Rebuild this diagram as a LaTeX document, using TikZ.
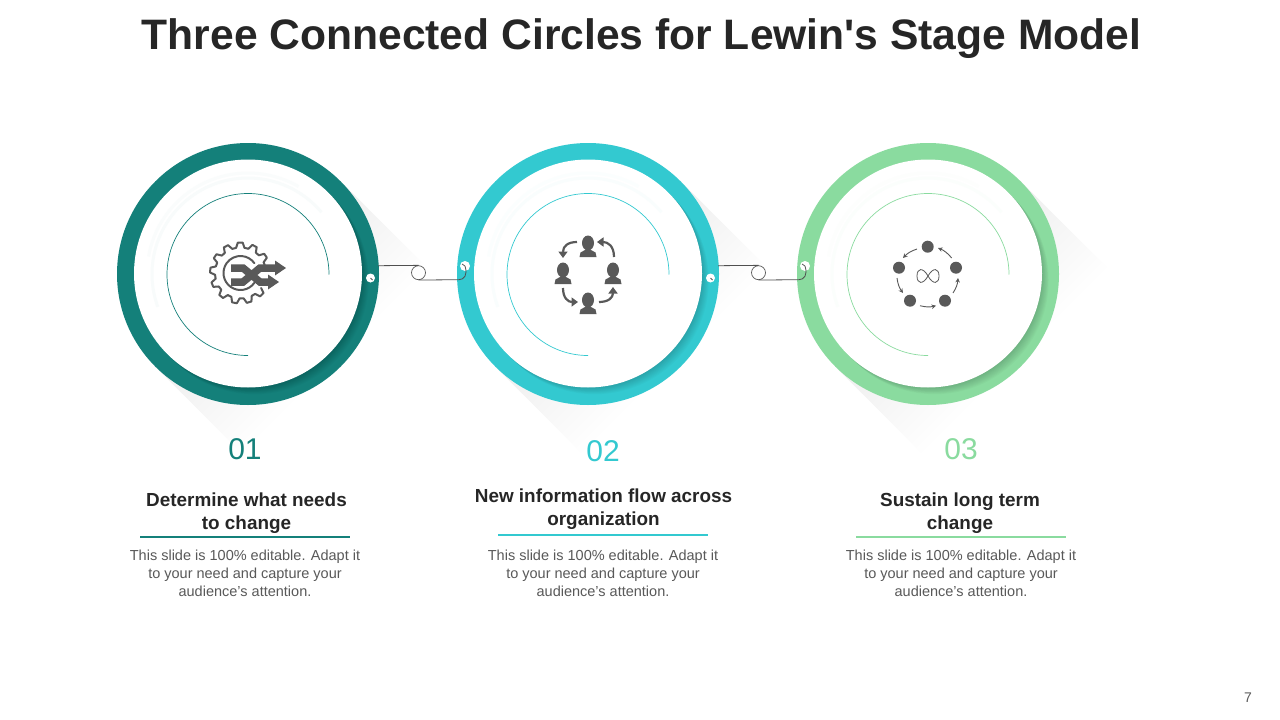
\documentclass[tikz,border=0pt]{standalone}
\usepackage{fontspec}
\setmainfont{Liberation Sans}
\newfontfamily\headfont[WordSpace=0.6]{Liberation Sans}
\newfontfamily\titlefont{Liberation Sans}
\usetikzlibrary{arrows.meta}
\definecolor{cteal}{HTML}{14807A}
\definecolor{ccyan}{HTML}{33C9D0}
\definecolor{cgreen}{HTML}{8ADB9F}
\definecolor{icon}{HTML}{595959}
\definecolor{titlec}{HTML}{262626}
\definecolor{bodyc}{HTML}{595959}
\tikzset{
  ringnode/.style={circle,inner sep=0pt,minimum size=262pt},
  innernode/.style={circle,inner sep=0pt,fill=white,minimum size=228pt},
  dotnode/.style={circle,inner sep=0pt,fill=white,minimum size=#1},
  loopnode/.style={circle,inner sep=0pt,draw=icon,line width=0.7pt,minimum size=14pt},
  conn/.style={draw=icon!90!black,line width=0.8pt},
  arrowline/.style={draw=icon,line width=2.2pt,-{Triangle[length=6.5pt,width=9pt]}},
  smallarrow/.style={draw=icon,line width=0.9pt,-{Stealth[length=4.5pt,width=4.5pt]}},
  numtext/.style={font=\fontsize{30}{34}\selectfont},
  headtext/.style={font=\headfont\fontsize{18.9}{23}\selectfont\bfseries,text=titlec,align=center},
  bodytext/.style={font=\fontsize{14.5}{18}\selectfont,text=bodyc,align=center},
  person/.pic={
    \fill[icon] (0,-2) ellipse [x radius=6,y radius=7.5];
    \fill[icon] (-8.5,12) -- (-7.5,7.5) -- (-3,5) -- (3,5) -- (7.5,7.5) -- (8.5,12) -- cycle;
  }
}
\newcommand{\ringunit}[3]{%
  \begin{scope}[transform canvas={shift={(#2,274)},rotate=-45}]
    \shade[left color=black!7,right color=white] (0,-131) rectangle (125,131);
  \end{scope}
  \node[ringnode,fill=#3] (ring#1) at (#2,274) {};
  \begin{scope}
    \clip (#2,274) circle [radius=131];
    \foreach \k in {1,...,9}
      \fill[black,opacity=0.02] (#2+\k*0.75,273.5+\k*0.75) circle [radius=114];
  \end{scope}
  \node[innernode] (inner#1) at (#2,273.5) {};
  \draw[#3!3,line width=3pt] (#2,274) ++(-40:96) arc [start angle=-40,end angle=-200,radius=96];
  \draw[#3!2,line width=3pt] (#2,274) ++(-60:101) arc [start angle=-60,end angle=-170,radius=101];
  \draw[#3,line width=0.7pt] (#2+81,274.5) arc [start angle=0,end angle=-270,radius=81];
}
\begin{document}
\begin{tikzpicture}[x=1pt,y=-1pt]
\useasboundingbox (0,0) rectangle (1280,720);
\fill[white] (0,0) rectangle (1280,720);

\node[font=\titlefont\fontsize{42.6}{48}\selectfont\bfseries,text=titlec] (title) at (641.5,39) {Three Connected Circles for Lewin's Stage Model};

\ringunit{1}{248}{cteal}
\ringunit{2}{588}{ccyan}
\ringunit{3}{928}{cgreen}

% connectors
\foreach \i/\dx in {1/0,2/340}{
  \coordinate (start\i) at (378+\dx,265.7);
  \node[dotnode=9pt] (dota\i) at (370.5+\dx,278) {};
  \node[dotnode=10pt] (dotb\i) at (465+\dx,266) {};
  \node[loopnode] (loop\i) at (418.5+\dx,272.7) {};
  \draw[conn] (start\i) -- (loop\i.north);
  \draw[conn] (loop\i.south) -- (459+\dx,279.7) .. controls (464+\dx,279.7) and (468+\dx,275) .. (dotb\i.center);
  \draw[icon,line width=0.8pt] (dotb\i.center) -- ++(-3,-2);
  \draw[icon,line width=0.8pt] (dota\i.center) -- ++(2,2);
}

% gear icon
\begin{scope}[shift={(240.5,273)},line join=round,line cap=round]
  \foreach \a in {36,64,...,316}
    \draw[icon,line width=2pt] (\a:25.5) -- (\a+5:30.5) -- (\a+14:30.5) -- (\a+19:25.5) -- (\a+28:25.5);
  \draw[icon,line width=2pt] (35:17) arc [start angle=35,end angle=325,radius=17];
  \draw[icon,line width=7.5pt,line cap=butt,line join=miter] (-9.5,-5) -- (2.5,-5) -- (19.5,9) -- (27.5,9);
  \draw[icon,line width=7.5pt,line cap=butt,line join=miter] (-9.5,9) -- (2.5,9) -- (19.5,-5) -- (35.5,-5);
  \fill[icon] (45.5,-5) -- (34.5,-12.5) -- (34.5,2.5) -- cycle;
  \fill[icon] (38.5,9) -- (27.5,1.5) -- (27.5,16.5) -- cycle;
\end{scope}

% people icon
\pic at (588,245) {person};
\pic at (563,272) {person};
\pic at (613,272) {person};
\pic at (588,302) {person};
\draw[arrowline] (577,242) .. controls (568,242) and (563,246) .. (563,258);
\draw[arrowline] (614,257) .. controls (614,246) and (608,242) .. (597,242);
\draw[arrowline] (563,288) .. controls (563,298) and (568,302) .. (578,302);
\draw[arrowline] (599,302) .. controls (608,302) and (613,298) .. (613,287);

% infinity icon
\foreach \x/\y in {927.7/246.7,956/267.7,945/300.7,910/300.7,899/267.7}
  \fill[icon] (\x,\y) circle [radius=6];
\draw[smallarrow] (951.7,258) to[bend right=14] (938,248);
\draw[smallarrow] (917,249) to[bend right=14] (903,258);
\draw[smallarrow] (897,278) to[bend right=14] (903,293);
\draw[smallarrow] (920,305.7) to[bend right=14] (936,305.7);
\draw[smallarrow] (953,293) to[bend right=14] (958,278);
\draw[icon,line width=0.8pt] (928,276) .. controls (923,267) and (917,268) .. (917,276)
  .. controls (917,284) and (923,285) .. (928,276)
  .. controls (933,267) and (939,268) .. (939,276)
  .. controls (939,284) and (933,285) .. (928,276);

% numbers
\node[numtext,text=cteal] (n1) at (245,449) {01};
\node[numtext,text=ccyan] (n2) at (603,451) {02};
\node[numtext,text=cgreen] (n3) at (961,449) {03};

% headings
\node[headtext] (h1) at (246.5,513) {Determine what needs\\to change};
\node[headtext] (h2) at (603.5,509) {New information flow across\\organization};
\node[headtext] (h3) at (960,513) {Sustain long term\\change};

\draw[cteal,line width=1.6pt] (140,537) -- (350,537);
\draw[ccyan,line width=1.6pt] (498,535) -- (708,535);
\draw[cgreen,line width=1.6pt] (856,537) -- (1066,537);

% body
\node[bodytext] (b1) at (245,573) {This slide is 100\% editable. Adapt it\\to your need and capture your\\audience's attention.};
\node[bodytext] (b2) at (603,573) {This slide is 100\% editable. Adapt it\\to your need and capture your\\audience's attention.};
\node[bodytext] (b3) at (961,573) {This slide is 100\% editable. Adapt it\\to your need and capture your\\audience's attention.};

\node[font=\fontsize{14}{16}\selectfont,text=bodyc] (page) at (1248,698) {7};
\end{tikzpicture}
\end{document}
